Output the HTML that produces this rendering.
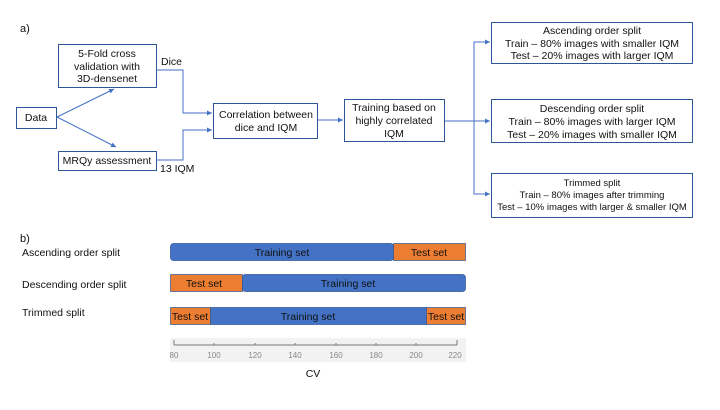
<!DOCTYPE html>
<html><head><style>
body{margin:0;background:#fff;}
svg text{font-family:"Liberation Sans",sans-serif;fill:#111;}
</style></head><body>
<svg width="720" height="405" viewBox="0 0 720 405" xmlns="http://www.w3.org/2000/svg">
<defs><marker id="a" markerWidth="6" markerHeight="6" refX="5" refY="3" orient="auto"><path d="M0,0.5 L5,3 L0,5.5 z" fill="#4472C4"/></marker></defs>
<text x="20" y="32" font-size="11">a)</text>
<g fill="#fff" stroke="#2F5597" stroke-width="1">
<rect x="58.5" y="44.5" width="98" height="43"/>
<rect x="16.5" y="107.5" width="40" height="21"/>
<rect x="58.5" y="151.5" width="98" height="19"/>
<rect x="213.5" y="103.5" width="104" height="35"/>
<rect x="344.5" y="99.5" width="100" height="42"/>
<rect x="491.5" y="22.5" width="201" height="41"/>
<rect x="491.5" y="99.5" width="201" height="43"/>
<rect x="491.5" y="173.5" width="201" height="44"/>
</g>
<g font-size="10.5" text-anchor="middle">
<text x="107" y="57">5-Fold cross</text><text x="107" y="70">validation with</text><text x="107" y="82">3D-densenet</text>
<text x="36" y="121">Data</text>
<text x="107" y="164">MRQy assessment</text>
<text x="266" y="118">Correlation between</text><text x="266" y="131">dice and IQM</text>
<text x="394" y="111">Training based on</text><text x="394" y="124">highly correlated</text><text x="394" y="137">IQM</text>
<text x="592" y="34">Ascending order split</text><text x="592" y="47">Train – 80% images with smaller IQM</text><text x="592" y="59">Test –  20% images with larger IQM</text>
<text x="592" y="112">Descending order split</text><text x="592" y="125">Train – 80% images with larger IQM</text><text x="592" y="138">Test –  20% images with smaller IQM</text>
<text x="592" y="186" font-size="9.5">Trimmed split</text><text x="592" y="198" font-size="9.5">Train – 80% images after trimming</text><text x="592" y="210" font-size="9.5">Test – 10% images with larger &amp; smaller IQM</text>
</g>
<text x="161" y="65" font-size="10.5">Dice</text>
<text x="160" y="172" font-size="10.5">13 IQM</text>
<g stroke="#4472C4" stroke-width="1" fill="none" marker-end="url(#a)">
<line x1="57" y1="117" x2="114" y2="89"/>
<line x1="57" y1="117" x2="116" y2="147"/>
<polyline points="156,70 183,70 183,113 212,113"/>
<polyline points="156,160 183,160 183,130 212,130"/>
<line x1="318" y1="120" x2="343" y2="120"/>
<line x1="445" y1="121" x2="490" y2="121"/>
<polyline points="474,121 474,42 490,42"/>
<polyline points="474,121 474,194 490,194"/>
</g>
<text x="20" y="242" font-size="11">b)</text>
<g font-size="10.5">
<text x="22" y="256">Ascending order split</text>
<text x="22" y="288">Descending order split</text>
<text x="22" y="316">Trimmed split</text>
</g>
<g stroke="#2F5597" stroke-width="0.7">
<rect x="170.5" y="243.5" width="223" height="17" rx="3" fill="#4472C4"/>
<rect x="393.5" y="243.5" width="72" height="17" fill="#ED7D31"/>
<rect x="170.5" y="274.5" width="72" height="17" fill="#ED7D31"/>
<rect x="242.5" y="274.5" width="223" height="17" rx="3" fill="#4472C4"/>
<rect x="210.5" y="307.5" width="216" height="17" fill="#4472C4"/>
<rect x="170.5" y="307.5" width="40" height="17" fill="#ED7D31"/>
<rect x="426.5" y="307.5" width="39" height="17" fill="#ED7D31"/>
</g>
<g font-size="10.5" text-anchor="middle">
<text x="282" y="256">Training set</text><text x="429" y="256">Test set</text>
<text x="204" y="287">Test set</text><text x="348" y="287">Training set</text>
<text x="190" y="320">Test set</text><text x="308" y="320">Training set</text><text x="446" y="320">Test set</text>
</g>
<rect x="170" y="338" width="296" height="24" fill="#f2f2f2"/>
<g stroke="#777" stroke-width="1">
<line x1="174" y1="345" x2="457" y2="345"/>
<line x1="174" y1="340" x2="174" y2="345"/><line x1="457" y1="340" x2="457" y2="345"/>
<line x1="214" y1="343" x2="214" y2="345"/><line x1="255" y1="343" x2="255" y2="345"/><line x1="295" y1="343" x2="295" y2="345"/><line x1="336" y1="343" x2="336" y2="345"/><line x1="376" y1="343" x2="376" y2="345"/><line x1="416" y1="343" x2="416" y2="345"/>
</g>
<g font-size="8" text-anchor="middle">
<text x="174" y="358" style="fill:#888">80</text><text x="214" y="358" style="fill:#888">100</text><text x="255" y="358" style="fill:#888">120</text><text x="295" y="358" style="fill:#888">140</text><text x="336" y="358" style="fill:#888">160</text><text x="376" y="358" style="fill:#888">180</text><text x="416" y="358" style="fill:#888">200</text><text x="455" y="358" style="fill:#888">220</text>
</g>
<text x="313" y="377" font-size="10.5" text-anchor="middle">CV</text>
</svg>
</body></html>
